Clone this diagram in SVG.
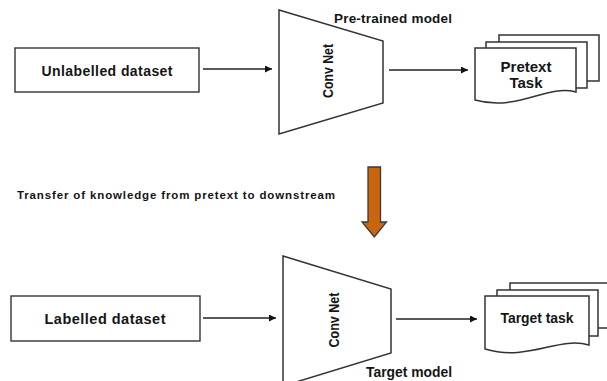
<svg xmlns="http://www.w3.org/2000/svg" width="607" height="381" viewBox="0 0 607 381">
<defs>
<marker id="ah" viewBox="0 0 10 10" refX="10" refY="5" markerWidth="7" markerHeight="7" markerUnits="userSpaceOnUse" orient="auto">
<path d="M0,0 L10,5 L0,10 Z" fill="#111"/>
</marker>
<style>
.box{fill:#fff;stroke:#333;stroke-width:1.4}
.shape{fill:#fff;stroke:#333;stroke-width:1.5;stroke-linejoin:miter}
.lbl{font-family:"Liberation Sans",Arial,sans-serif;font-weight:bold;fill:#151515}
.conn{stroke:#222;stroke-width:1.4;fill:none;marker-end:url(#ah)}
</style>
</defs>
<rect width="607" height="381" fill="#fff"/>

<g id="unlabelled">
<rect class="box" x="15" y="48" width="184" height="44"/>
<text class="lbl" x="107" y="76" font-size="14" text-anchor="middle" textLength="131" lengthAdjust="spacing">Unlabelled dataset</text>
</g>

<g id="convnet1">
<path class="shape" d="M279,10 L383,41 L383,103 L279,134 Z"/>
<text class="lbl" font-size="14" text-anchor="middle" transform="translate(333,71) rotate(-90)" textLength="54" lengthAdjust="spacingAndGlyphs">Conv Net</text>
</g>

<g id="pretrained-label">
<text class="lbl" x="393" y="23" font-size="13.5" text-anchor="middle" textLength="118" lengthAdjust="spacing">Pre-trained model</text>
</g>

<g id="pretext">
<path class="shape" d="M499,35 H599 V81 H499 Z"/>
<path class="shape" d="M486,42 H587 V88 H486 Z"/>
<path class="shape" d="M475,48 H576 V92 C546,84 518,112 475,100 Z"/>
<text class="lbl" x="526" y="72" font-size="15" text-anchor="middle">Pretext</text>
<text class="lbl" x="526" y="88" font-size="15" text-anchor="middle">Task</text>
</g>

<g id="transfer">
<text class="lbl" x="17" y="199" font-size="11.5" textLength="318" lengthAdjust="spacing">Transfer of knowledge  from pretext to downstream</text>
<path d="M368,167 H380.5 V222 H386.5 L374.3,237 L362,222 H368 Z" fill="#c9650f" stroke="#3a3a3a" stroke-width="1.3" stroke-linejoin="miter"/>
</g>

<g id="labelled">
<rect class="box" x="11" y="296" width="189" height="45"/>
<text class="lbl" x="105" y="324" font-size="14.5" text-anchor="middle" textLength="121" lengthAdjust="spacing">Labelled dataset</text>
</g>

<g id="convnet2">
<path class="shape" d="M283,256 L391,289 L391,353 L283,386 Z"/>
<text class="lbl" font-size="14" text-anchor="middle" transform="translate(339,320) rotate(-90)" textLength="55" lengthAdjust="spacingAndGlyphs">Conv Net</text>
</g>

<g id="target-label">
<text class="lbl" x="409" y="377" font-size="14" text-anchor="middle" textLength="86" lengthAdjust="spacingAndGlyphs">Target model</text>
</g>

<g id="target">
<path class="shape" d="M510,283 H612 V328 H510 Z"/>
<path class="shape" d="M497,290 H598 V336 H497 Z"/>
<path class="shape" d="M485,296 H589 V345 C558,336 528,362 485,349 Z"/>
<text class="lbl" x="537" y="323" font-size="14.5" text-anchor="middle" textLength="73" lengthAdjust="spacingAndGlyphs">Target task</text>
</g>

<g id="connectors">
<line class="conn" x1="203" y1="69" x2="272" y2="69"/>
<line class="conn" x1="389" y1="70" x2="468" y2="70"/>
<line class="conn" x1="203" y1="318" x2="276" y2="318"/>
<line class="conn" x1="396" y1="319" x2="477" y2="319"/>
</g>
</svg>
